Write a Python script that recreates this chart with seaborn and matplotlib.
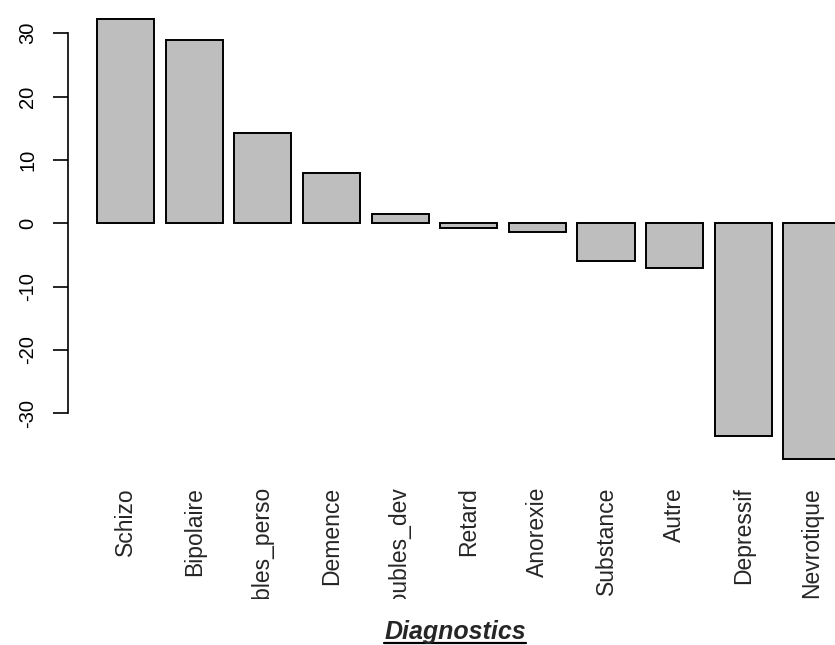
import matplotlib
matplotlib.use("Agg")
import matplotlib.pyplot as plt
from matplotlib.transforms import Bbox, TransformedBbox
from matplotlib.lines import Line2D
import seaborn as sns
import pandas as pd

categories = ["Schizo", "Bipolaire", "Troubles_perso", "Demence", "Troubles_dev",
              "Retard", "Anorexie", "Substance", "Autre", "Depressif", "Nevrotique"]
values = [32.2, 29.0, 14.3, 7.9, 1.5, -0.7, -1.4, -5.9, -7.1, -33.6, -37.2]
yticks = [-30, -20, -10, 0, 10, 20, 30]
xlabel = "Diagnostics"

sns.set_style("white")
plt.rcParams["font.family"] = ["Liberation Sans", "DejaVu Sans"]

W, H = 835, 645
fig = plt.figure(figsize=(W / 100, H / 100), dpi=100)
ax_bottom_px = 462
ax = fig.add_axes([0, 1 - ax_bottom_px / H, 1, ax_bottom_px / H])

df = pd.DataFrame({"cat": categories, "val": values})
sns.barplot(data=df, x="cat", y="val", color="#bebebe", saturation=1,
            edgecolor="black", linewidth=1.4, width=0.833, errorbar=None, ax=ax)

# geometry (pixels -> data)
px_per_cat = 68.64
center0 = 125.6
ax.set_xlim((0 - center0) / px_per_cat, (W - center0) / px_per_cat)
px_per_unit = 6.333
zero_px = 223.3
ax.set_ylim((zero_px - ax_bottom_px) / px_per_unit, zero_px / px_per_unit)

for s in ["top", "right", "bottom"]:
    ax.spines[s].set_visible(False)
ax.spines["left"].set_position(("data", (68.3 - center0) / px_per_cat))
ax.spines["left"].set_bounds(yticks[0], yticks[-1])
ax.spines["left"].set_color("black")
ax.spines["left"].set_linewidth(1.2)

ax.set_yticks(yticks)
ax.set_yticklabels([str(t) for t in yticks], rotation=90, va="center", fontsize=14.5)
ax.tick_params(axis="y", direction="out", length=10.5, width=1.2, pad=12, colors="black", left=True)
ax.tick_params(axis="x", length=0, pad=18)
ax.set_xlabel("")
ax.set_ylabel("")
ax.set_xticks(range(len(categories)))
ax.set_xticklabels(categories, rotation=90, va="top", ha="center", fontsize=16.5)

clip = TransformedBbox(Bbox([[0, 46 / H], [1, 1]]), fig.transFigure)
for lab in ax.get_xticklabels():
    lab.set_clip_on(True)
    lab.set_clip_box(clip)

t = fig.text(455 / W, (H - 639.5) / H, xlabel, ha="center", va="baseline",
             fontsize=18, fontweight="bold", fontstyle="italic")
fig.canvas.draw()
bb = t.get_window_extent(fig.canvas.get_renderer())
uy = 1.6
fig.add_artist(Line2D([bb.x0 / W, bb.x1 / W], [uy / H, uy / H],
                      transform=fig.transFigure, color="black", lw=1.6))

fig.savefig("out.png", dpi=100)
